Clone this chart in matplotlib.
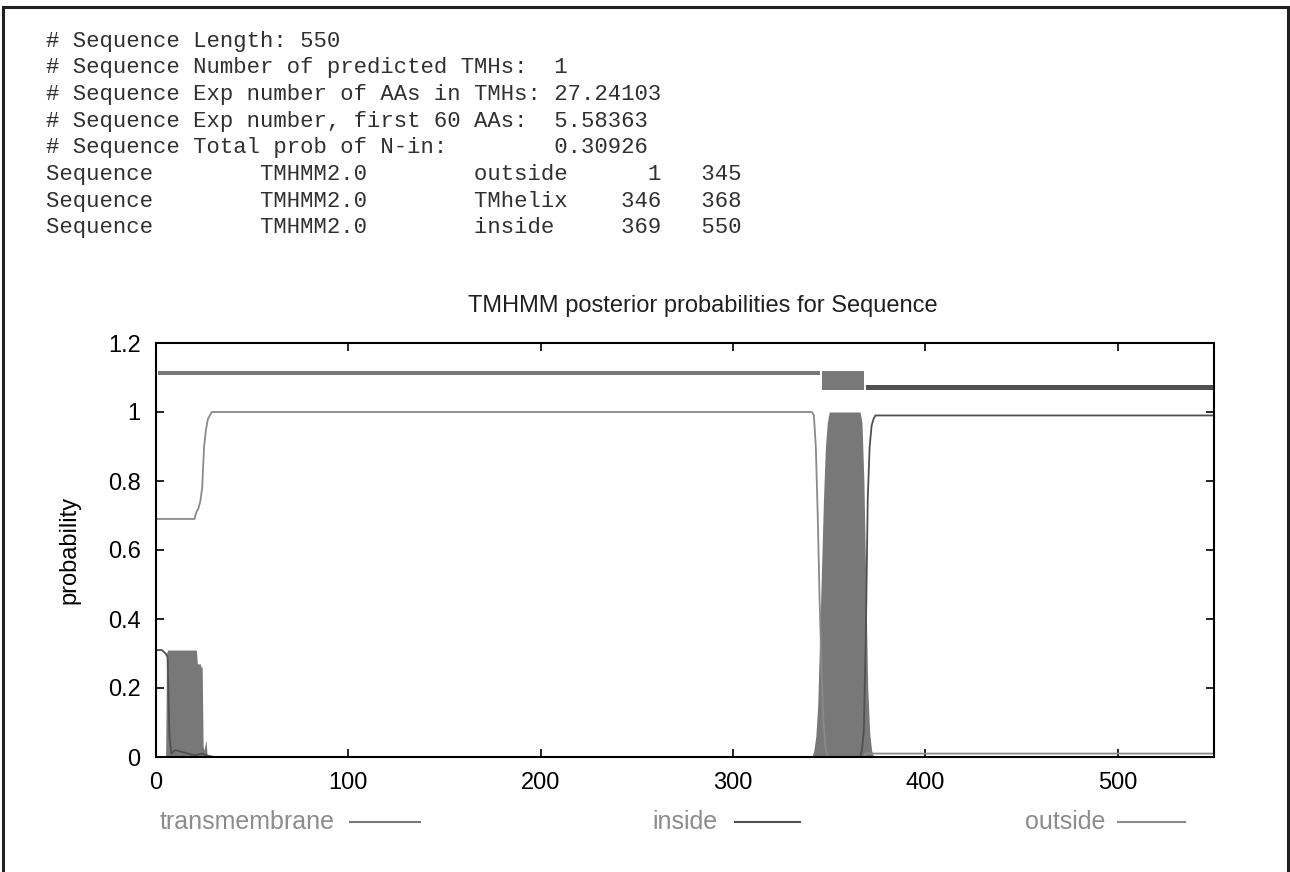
"""TMHMM posterior probability plot with the text summary on top."""
import matplotlib

matplotlib.use("Agg")
import matplotlib.pyplot as plt
from matplotlib.lines import Line2D
from matplotlib.patches import Rectangle

plt.rcParams["font.family"] = ["Liberation Sans", "DejaVu Sans"]

# summary lines printed above the plot
header_lines = [
    "# Sequence Length: 550",
    "# Sequence Number of predicted TMHs:  1",
    "# Sequence Exp number of AAs in TMHs: 27.24103",
    "# Sequence Exp number, first 60 AAs:  5.58363",
    "# Sequence Total prob of N-in:        0.30926",
    "Sequence        TMHMM2.0        outside      1   345",
    "Sequence        TMHMM2.0        TMhelix    346   368",
    "Sequence        TMHMM2.0        inside     369   550",
]

seq_len = 550

# predicted topology (start, end)
topo_outside = (1, 345)
topo_tmhelix = (346, 368)
topo_inside = (369, 550)

# transmembrane posterior (residue, prob)
tm_pos = [1, 5, 5.5, 6, 7, 8, 10, 12, 14, 16, 18, 20, 21, 21.5, 22, 23, 23.5, 24, 24.5, 25, 26, 26.5, 27,
          341, 342, 343, 344, 345, 346, 347, 348, 349, 350, 352, 354, 356, 358, 360,
          362, 364, 366, 367, 368, 369, 370, 371, 372, 373, 550]
tm_prob = [0.0, 0.0, 0.30, 0.31, 0.31, 0.31, 0.31, 0.31, 0.31, 0.31, 0.31, 0.31, 0.31, 0.27, 0.27, 0.27, 0.26, 0.26,
           0.03, 0.02, 0.05, 0.01, 0.0,
           0.0, 0.02, 0.06, 0.15, 0.35, 0.55, 0.75, 0.90, 0.97, 1.0, 1.0, 1.0, 1.0, 1.0, 1.0,
           1.0, 1.0, 1.0, 0.97, 0.80, 0.50, 0.20, 0.07, 0.02, 0.0, 0.0]

# inside posterior
inside_pos = [1, 3, 4, 5, 6, 7, 8, 10, 20, 24, 26, 30, 340, 366, 367, 368, 369, 370, 371, 372, 373, 374, 550]
inside_prob = [0.31, 0.31, 0.305, 0.30, 0.29, 0.06, 0.01, 0.02, 0.005, 0.01, 0.005, 0.0, 0.0, 0.0, 0.02, 0.08, 0.35,
               0.75, 0.90, 0.96, 0.98, 0.99, 0.99]

# outside posterior
outside_pos = [1, 20, 21, 22, 23, 24, 25, 26, 27, 28, 29, 30, 341, 342, 343, 344, 345, 346, 347, 348, 349,
               368, 369, 372, 374, 550]
outside_prob = [0.69, 0.69, 0.71, 0.72, 0.74, 0.78, 0.90, 0.95, 0.98, 0.99, 1.0, 1.0, 1.0, 0.99, 0.90, 0.70, 0.45,
                0.25, 0.10, 0.03, 0.0, 0.0, 0.01, 0.01, 0.01, 0.01]

x_ticks = [0, 100, 200, 300, 400, 500]
y_ticks = [0, 0.2, 0.4, 0.6, 0.8, 1, 1.2]
y_tick_labels = ["0", "0.2", "0.4", "0.6", "0.8", "1", "1.2"]

C_TM = "#787878"
C_IN = "#505050"
C_OUT = "#8a8a8a"

W, H = 1290, 872
fig = plt.figure(figsize=(W / 100, H / 100), dpi=100)
fig.patch.set_facecolor("white")

# outer frame
fig.add_artist(Rectangle((3 / W, -0.05), 1285 / W, 1.05 - 7 / H, transform=fig.transFigure,
                         fill=False, edgecolor="#202020", linewidth=2.2))

for i, line in enumerate(header_lines):
    fig.text(46 / W, 1 - (41 + 26.7 * i) / H, line, family="Liberation Mono", fontsize=16,
             color="#303030", va="center", ha="left")

ax = fig.add_axes([156 / W, 1 - 757 / H, (1214 - 156) / W, (757 - 343) / H])

ax.fill_between(tm_pos, 0, tm_prob, color=C_TM, linewidth=0)
ax.plot(outside_pos, outside_prob, color=C_OUT, linewidth=1.3)
ax.plot(inside_pos, inside_prob, color=C_IN, linewidth=1.3)

# topology bars
ax.fill_between(topo_outside, 1.106, 1.118, color=C_TM, linewidth=0)
ax.fill_between(topo_tmhelix, 1.065, 1.118, color=C_TM, linewidth=0)
ax.fill_between(topo_inside, 1.063, 1.077, color=C_IN, linewidth=0)

ax.set_xlim(0, seq_len)
ax.set_ylim(0, 1.2)
ax.set_xticks(x_ticks)
ax.set_yticks(y_ticks)
ax.set_yticklabels(y_tick_labels)
ax.tick_params(direction="in", top=True, right=True, length=6, width=1.2,
               labelsize=17, pad=11)
for s in ax.spines.values():
    s.set_linewidth(1.5)
ax.set_ylabel("probability", fontsize=17)
ax.yaxis.set_label_coords(-0.071, 0.5)

fig.text(703 / W, 1 - 306 / H, "TMHMM posterior probabilities for Sequence",
         fontsize=17, ha="center", va="center", color="#202020")

# legend row
legend_items = [("transmembrane", 160), ("inside", 652), ("outside", 1025)]
for label, x0 in legend_items:
    fig.text(x0 / W, 1 - 822 / H, label, fontsize=18, color="#8c8c8c", ha="left", va="center")
legend_lines = [(350, 420, C_TM), (735, 800, C_IN), (1118, 1185, C_OUT)]
for xa, xb, col in legend_lines:
    fig.add_artist(Line2D([xa / W, xb / W], [1 - 822 / H] * 2, transform=fig.transFigure,
                          color=col, linewidth=1.5))

fig.savefig("out.png", dpi=100)
